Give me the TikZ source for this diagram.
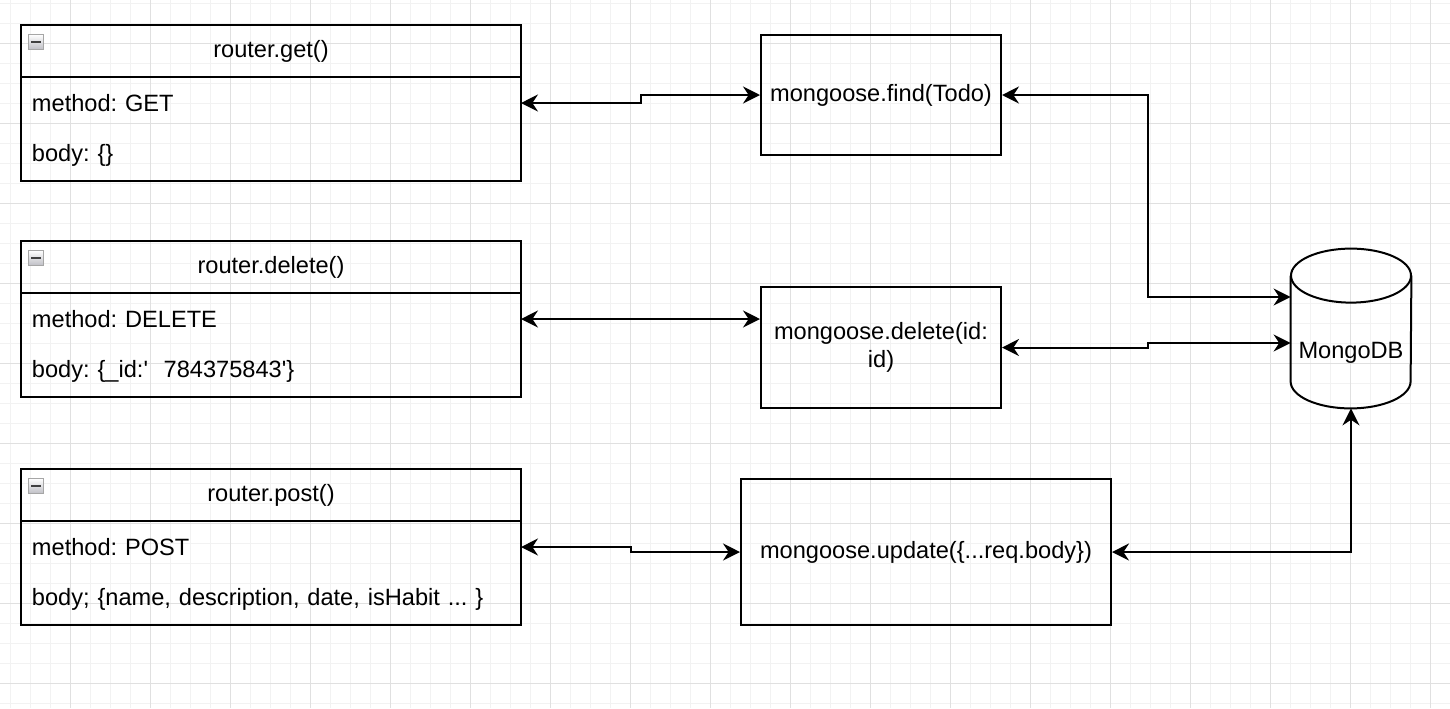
\documentclass[tikz,border=0pt]{standalone}
\usepackage{fontspec}
\setmainfont{Liberation Sans}
\usetikzlibrary{positioning,arrows.meta}
\frenchspacing
\tikzset{
    gridMinor/.style={line width=0.5pt, color=black!5},
    gridMajor/.style={line width=0.5pt, color=black!12},
    boxLine/.style={line width=1pt},
    headBox/.style={draw, line width=1pt, minimum width=250pt, minimum height=26pt, inner sep=0pt, outer sep=0pt},
    rowBox/.style={minimum height=26pt, text width=239pt, inner xsep=5.5pt, inner ysep=0pt, outer sep=0pt, align=left},
    callBox/.style={draw, line width=1pt, align=center, inner sep=0pt},
    dbBox/.style={minimum width=60pt, minimum height=79.5pt, inner sep=0pt},
    minusIcon/.style={draw=black!35, line width=0.4pt, top color=white, bottom color=blue!10!black!25,
        minimum size=7.5pt, inner sep=0pt,
        path picture={\fill[black!75] ([xshift=-2.4pt,yshift=-0.7pt]path picture bounding box.center)
            rectangle ([xshift=2.4pt,yshift=0.7pt]path picture bounding box.center);}},
    link/.style={line width=1pt, {Stealth[length=8.5pt,width=8.5pt,inset=2.8pt]}-{Stealth[length=8.5pt,width=8.5pt,inset=2.8pt]}},
    }

\begin{document}
\begin{tikzpicture}[x=0.5pt, y=-0.5pt, font=\fontsize{11.8pt}{14pt}\selectfont]
	\useasboundingbox (0,0) rectangle (1450,708);
	\fill[white] (0,0) rectangle (1450,708);
	% grid
	\foreach \gx in {10,30,...,1450} \draw[gridMinor] (\gx,0) -- (\gx,708);
	\foreach \gy in {3,23,...,708} \draw[gridMinor] (0,\gy) -- (1450,\gy);
	\foreach \gx in {70,150,...,1450} \draw[gridMajor] (\gx,0) -- (\gx,708);
	\foreach \gy in {43,123,...,708} \draw[gridMajor] (0,\gy) -- (1450,\gy);

	% routers
	\node[headBox, anchor=north west] (getHead) at (21,25) {router.get()};
	\node[rowBox, below=0pt of getHead] (getMethod) {method: GET};
	\node[rowBox, below=0pt of getMethod] (getBody) {body: \{\}};
	\draw[boxLine] (getHead.north west) rectangle (getBody.south east);
	\node[minusIcon, anchor=north west] (getIcon) at ([xshift=3.5pt,yshift=-4.5pt]getHead.north west) {};

	\node[headBox, anchor=north west] (delHead) at (21,241) {router.delete()};
	\node[rowBox, below=0pt of delHead] (delMethod) {method: DELETE};
	\node[rowBox, below=0pt of delMethod] (delBody) {body: \{\_id:\textquotesingle\ \ 784375843\textquotesingle\}};
	\draw[boxLine] (delHead.north west) rectangle (delBody.south east);
	\node[minusIcon, anchor=north west] (delIcon) at ([xshift=3.5pt,yshift=-4.5pt]delHead.north west) {};

	\node[headBox, anchor=north west] (postHead) at (21,469) {router.post()};
	\node[rowBox, below=0pt of postHead] (postMethod) {method: POST};
	\node[rowBox, below=0pt of postMethod] (postBody) {body; \{name, description, date, isHabit ... \}};
	\draw[boxLine] (postHead.north west) rectangle (postBody.south east);
	\node[minusIcon, anchor=north west] (postIcon) at ([xshift=3.5pt,yshift=-4.5pt]postHead.north west) {};

	% mongoose calls
	\node[callBox, minimum width=120pt, minimum height=60pt] (findBox) at (881,95) {mongoose.find(Todo)};
	\node[callBox, minimum width=120pt, minimum height=60.5pt] (deleteBox) at (881,347.5) {mongoose.delete(id:\\id)};
	\node[callBox, minimum width=185pt, minimum height=73pt] (updateBox) at (926,552) {mongoose.update(\{...req.body\})};

	% database
	\node[dbBox, label={[yshift=-12.25pt]center:MongoDB}] (mongoDb) at (1351,328.5) {};
	\draw[boxLine] ([yshift=-13.5pt]mongoDb.north) ellipse [x radius=30pt, y radius=13.5pt];
	\draw[boxLine] ([yshift=-13.5pt]mongoDb.north west) -- ([yshift=13.5pt]mongoDb.south west)
		arc[start angle=180, end angle=360, x radius=30pt, y radius=13.5pt] -- ([yshift=-13.5pt]mongoDb.north east);

	\draw[link] (getMethod.east) -- ++(120,0) |- (findBox.west);
	\draw[link] (delMethod.east) -- (delMethod.east -| deleteBox.west);
	\draw[link] (postMethod.east) -- ++(110,0) |- (updateBox.west);
	\draw[link] (findBox.east) -- ++(146,0) |- ([yshift=15.75pt]mongoDb.west);
	\draw[link] (deleteBox.east) -- ++(146,0) |- ([yshift=-7.25pt]mongoDb.west);
	\draw[link] (updateBox.east) -| (mongoDb.south);
\end{tikzpicture}
\end{document}
